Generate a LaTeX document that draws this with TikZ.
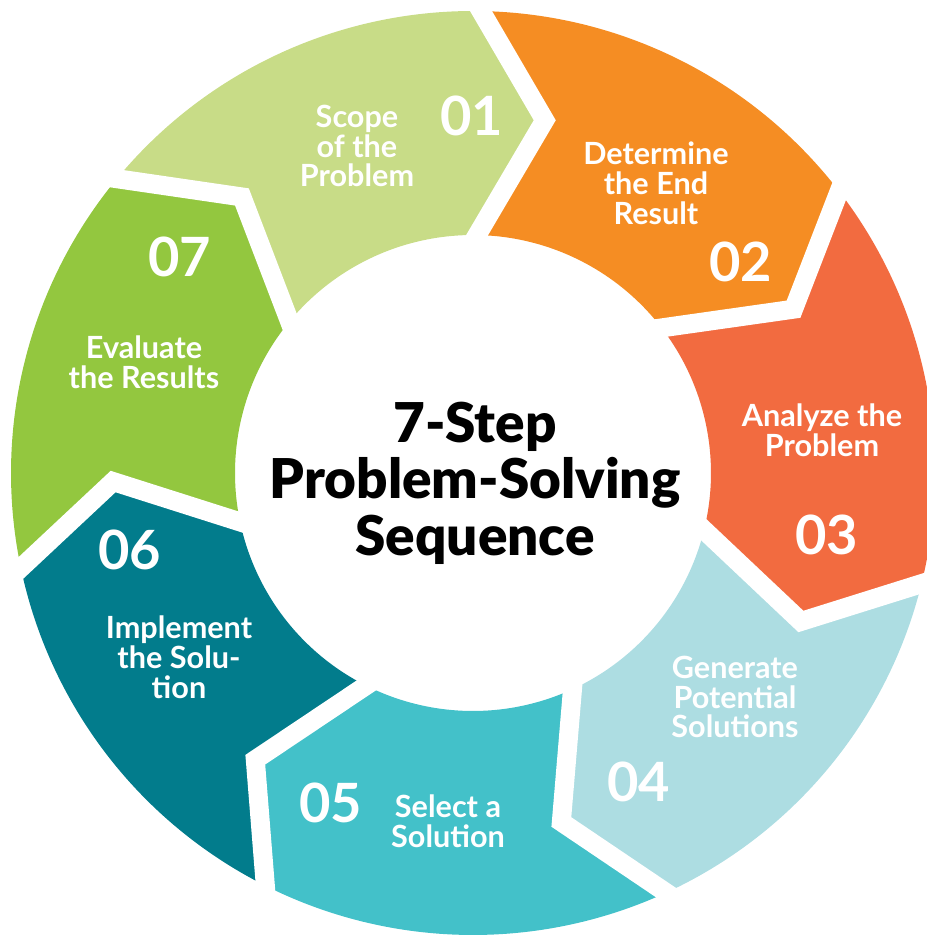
\documentclass[tikz,border=0pt]{standalone}
\usepackage{fontspec}
\setmainfont{Lato}
\newfontfamily\blackfont{Lato Black}
\definecolor{scopegreen}{RGB}{200,220,135}
\definecolor{endorange}{RGB}{245,141,35}
\definecolor{analyzered}{RGB}{242,107,64}
\definecolor{generateblue}{RGB}{173,221,226}
\definecolor{selectteal}{RGB}{67,193,201}
\definecolor{implementteal}{RGB}{2,124,140}
\definecolor{evaluategreen}{RGB}{147,199,63}
\tikzset{
    gap/.style={draw=white, line width=5.4pt, line join=miter,
        shorten <=-4pt, shorten >=-4pt},
    steplabel/.style={text=white, inner sep=0pt, align=center,
        font=\bfseries\fontsize{8.7}{8.5}\selectfont},
    stepnumber/.style={text=white, inner sep=0pt,
        font=\bfseries\fontsize{15.4}{16}\selectfont},
    heading/.style={text=black, inner sep=0pt, align=center,
        font=\blackfont\fontsize{15.6}{16.1}\selectfont},
}

\begin{document}
\begin{tikzpicture}[x=0.01cm, y=0.01cm]

\useasboundingbox (-473,-462) rectangle (454,473);

		% ring pieces, clockwise from the top
		\fill[scopegreen] (140.43:462) arc[start angle=140.43, end angle=89, radius=462] -- (78.5:360) -- (89:238) arc[start angle=89, end angle=140.43, radius=238] -- (129.93:360) -- cycle;
		\fill[endorange] (89:462) arc[start angle=89, end angle=37.57, radius=462] -- (27.07:360) -- (37.57:238) arc[start angle=37.57, end angle=89, radius=238] -- (78.5:360) -- cycle;
		\fill[analyzered] (37.57:462) arc[start angle=37.57, end angle=-13.86, radius=462] -- (-24.36:360) -- (-13.86:238) arc[start angle=-13.86, end angle=37.57, radius=238] -- (27.07:360) -- cycle;
		\fill[generateblue] (-13.86:462) arc[start angle=-13.86, end angle=-65.29, radius=462] -- (-75.79:360) -- (-65.29:238) arc[start angle=-65.29, end angle=-13.86, radius=238] -- (-24.36:360) -- cycle;
		\fill[selectteal] (-65.29:462) arc[start angle=-65.29, end angle=-116.71, radius=462] -- (-127.21:360) -- (-116.71:238) arc[start angle=-116.71, end angle=-65.29, radius=238] -- (-75.79:360) -- cycle;
		\fill[implementteal] (-116.71:462) arc[start angle=-116.71, end angle=-168.14, radius=462] -- (-178.64:360) -- (-168.14:238) arc[start angle=-168.14, end angle=-116.71, radius=238] -- (-127.21:360) -- cycle;
		\fill[evaluategreen] (-168.14:462) arc[start angle=-168.14, end angle=-219.57, radius=462] -- (-230.07:360) -- (-219.57:238) arc[start angle=-219.57, end angle=-168.14, radius=238] -- (-178.64:360) -- cycle;

		% white chevrons between the pieces
		\draw[gap] (89:462) -- (78.5:360) -- (89:238);
		\draw[gap] (37.57:462) -- (27.07:360) -- (37.57:238);
		\draw[gap] (-13.86:462) -- (-24.36:360) -- (-13.86:238);
		\draw[gap] (-65.29:462) -- (-75.79:360) -- (-65.29:238);
		\draw[gap] (-116.71:462) -- (-127.21:360) -- (-116.71:238);
		\draw[gap] (-168.14:462) -- (-178.64:360) -- (-168.14:238);
		\draw[gap] (140.43:462) -- (129.93:360) -- (140.43:238);

		\node[heading] (title) at (2,-10) {7-Step\\Problem-Solving\\Sequence};

		\node[stepnumber] (n01) at (-1,357) {01};
		\node[steplabel] (s01) at (-116,327) {Scope\\of the\\Problem};
		\node[stepnumber] (n02) at (268,211) {02};
		\node[steplabel] (s02) at (183,290) {Determine\\the End\\Result};
		\node[stepnumber] (n03) at (354,-62) {03};
		\node[steplabel] (s03) at (349,43) {Analyze the\\Problem};
		\node[stepnumber] (n04) at (166,-309) {04};
		\node[steplabel] (s04) at (262,-224) {Generate\\Potential\\Solutions};
		\node[stepnumber] (n05) at (-142,-330) {05};
		\node[steplabel] (s05) at (-25,-348) {Select a\\Solution};
		\node[stepnumber] (n06) at (-343,-77) {06};
		\node[steplabel] (s06) at (-294,-184) {Implement\\the Solu-\\tion};
		\node[stepnumber] (n07) at (-293,216) {07};
		\node[steplabel] (s07) at (-329,111) {Evaluate\\the Results};

\end{tikzpicture}
\end{document}
